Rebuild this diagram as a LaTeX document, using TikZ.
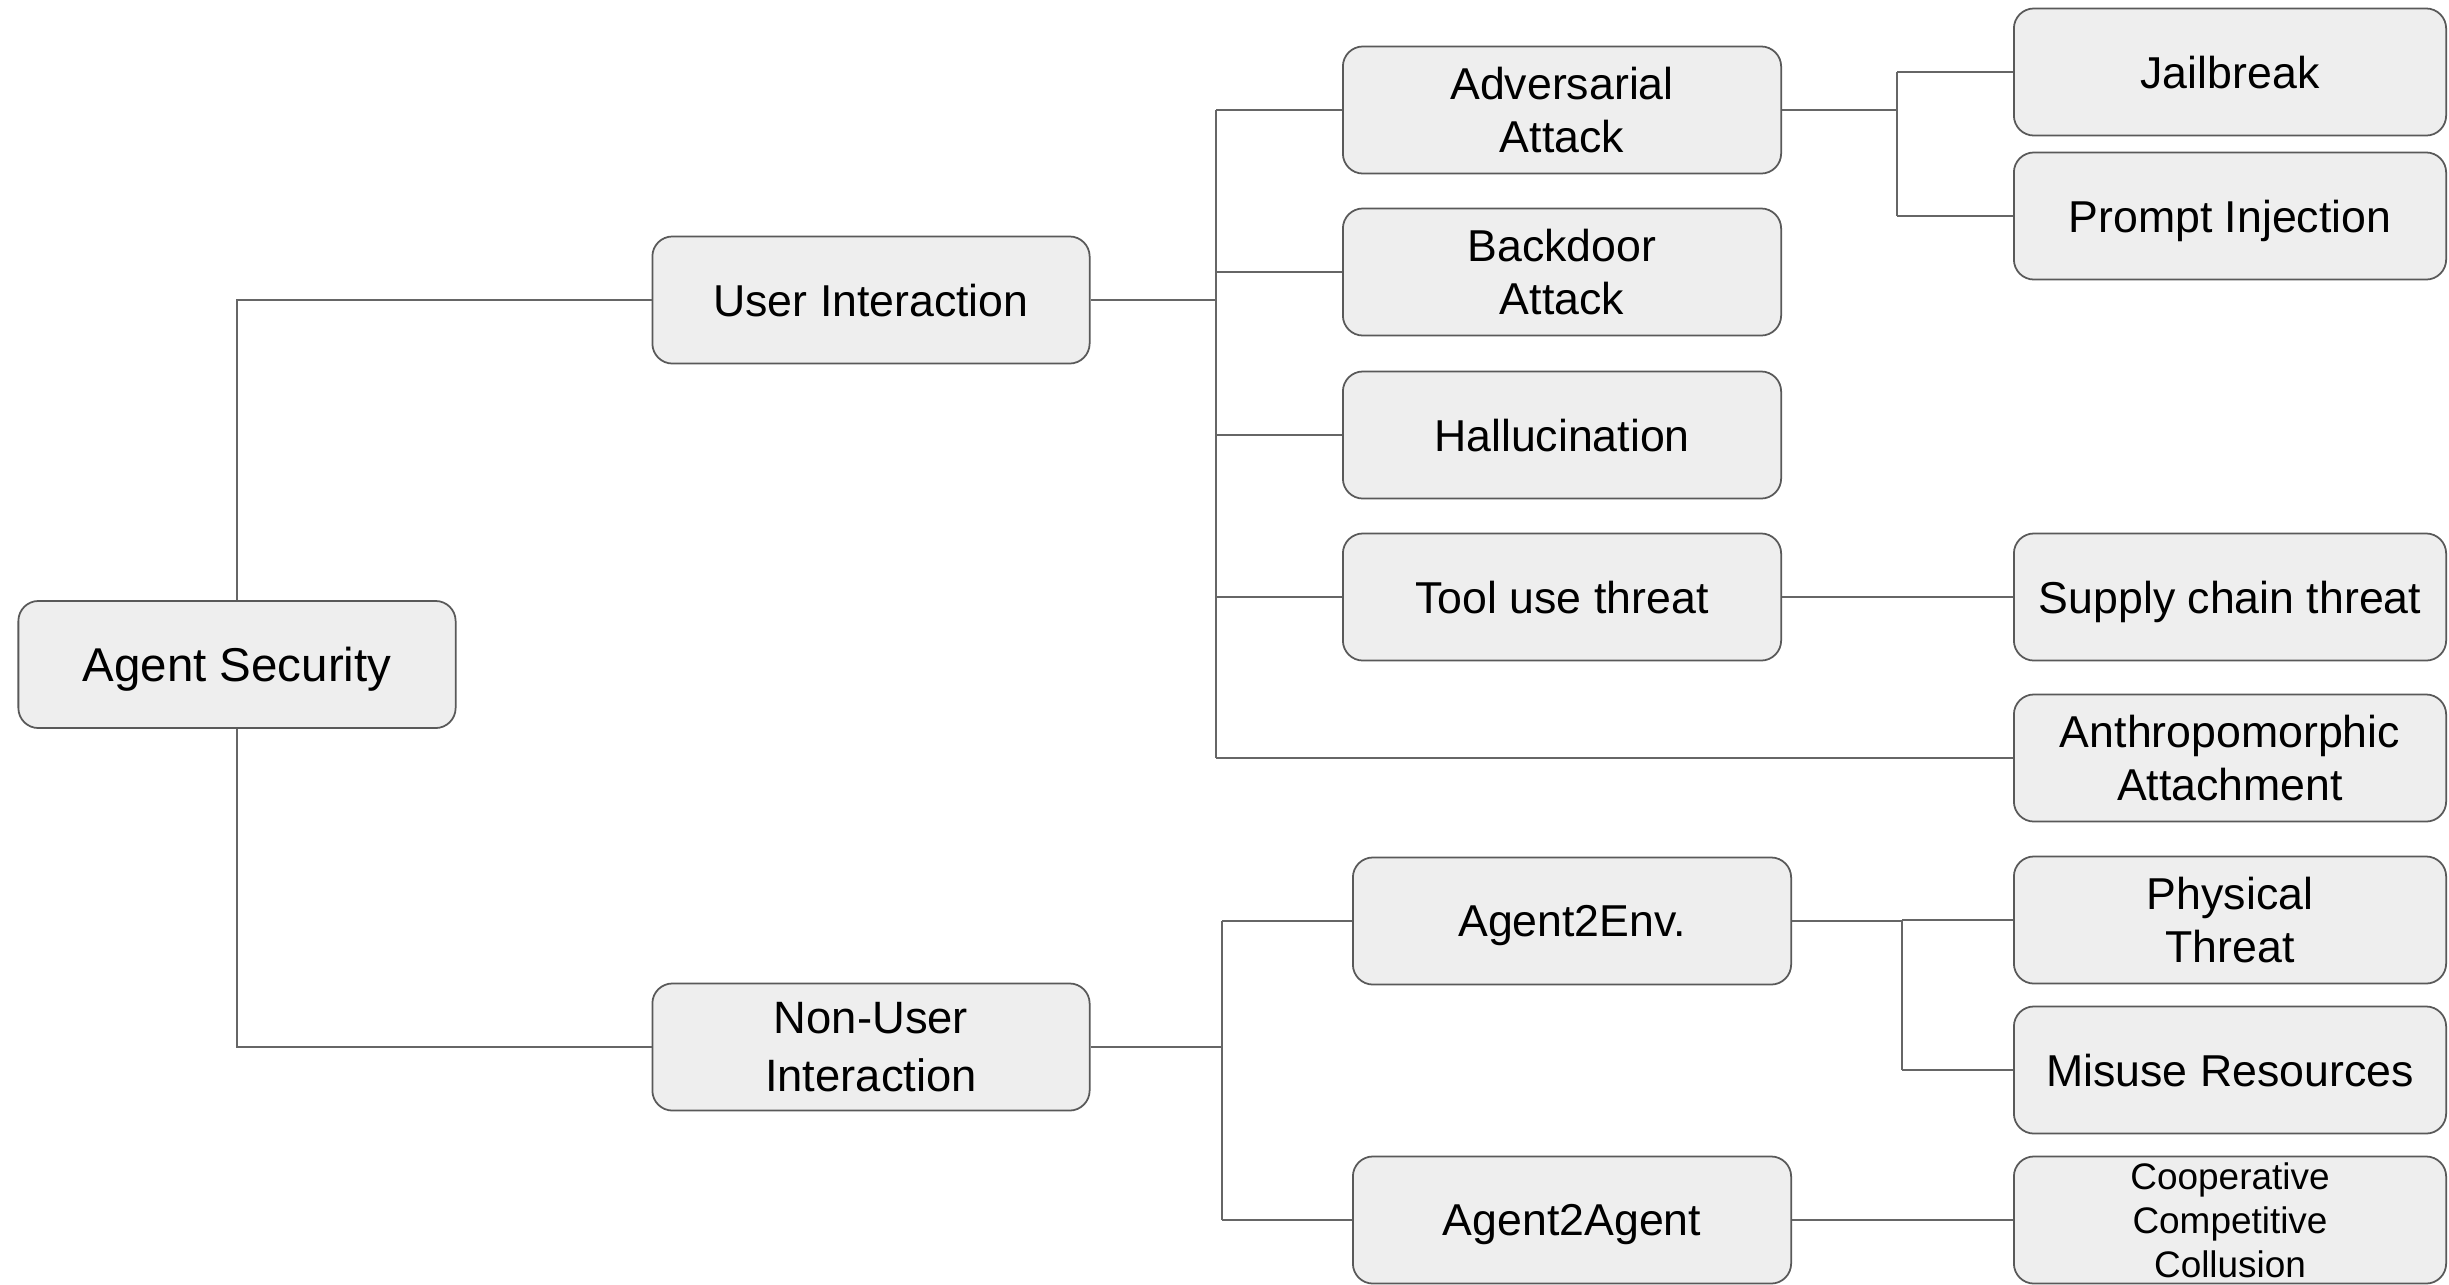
\documentclass[tikz,border=0pt]{standalone}
\usepackage{fontspec}
\setmainfont{Liberation Sans}
\begin{document}
\begin{tikzpicture}[x=0.01cm,y=-0.01cm,
  box/.style={draw=boxline,fill=boxfill,line width=0.5pt,rounded corners=0.2cm,
    minimum width=4.37cm,minimum height=1.27cm,inner sep=0pt,align=center,
    text depth=0pt,font=\fontsize{12.7}{15.2}\selectfont},
  leaf/.style={box,minimum width=4.32cm},
  link/.style={draw=linkcol,line width=0.5pt}]
\definecolor{boxfill}{HTML}{EEEEEE}
\definecolor{boxline}{HTML}{595959}
\definecolor{linkcol}{HTML}{666666}
\useasboundingbox (0,0) rectangle (2449,1284);

% root and first level
\node[box,font=\fontsize{13.5}{15.2}\selectfont] (sec) at (237,664.5) {Agent Security};
\node[box] (ui) at (871,300) {User Interaction};
\node[box,font=\fontsize{12.9}{16.4}\selectfont] (nui) at (871,1047) {Non-User\\Interaction};

% user interaction branch
\node[box,minimum width=4.38cm] (adv) at (1562,110) {Adversarial\\Attack};
\node[box,minimum width=4.38cm] (bd) at (1562,272) {Backdoor\\Attack};
\node[box,minimum width=4.38cm] (hal) at (1562,435) {Hallucination};
\node[box,minimum width=4.38cm] (tool) at (1562,597) {Tool use threat};

\node[leaf] (jb) at (2230,72) {Jailbreak};
\node[leaf] (pi) at (2230,216) {Prompt Injection};
\node[leaf] (sc) at (2230,597) {Supply chain threat};
\node[leaf] (anth) at (2230,758) {Anthropomorphic\\Attachment};

% non-user interaction branch
\node[box,minimum width=4.38cm] (a2e) at (1572,921) {Agent2Env.};
\node[box,minimum width=4.38cm] (a2a) at (1572,1220) {Agent2Agent};

\node[leaf] (phys) at (2230,920) {Physical\\Threat};
\node[leaf] (mis) at (2230,1070) {Misuse Resources};
\node[leaf,font=\fontsize{10.5}{12.4}\selectfont] (coop) at (2230,1220) {Cooperative\\Competitive\\Collusion};

% root connectors
\draw[link] (sec.north) |- (ui.west);
\draw[link] (sec.south) |- (nui.west);

% user interaction bus
\coordinate (busU) at (1216,300);
\draw[link] (ui.east) -- (busU);
\draw[link] (busU |- adv.west) -- (busU |- anth.west);
\draw[link] (busU |- adv.west) -- (adv.west);
\draw[link] (busU |- bd.west) -- (bd.west);
\draw[link] (busU |- hal.west) -- (hal.west);
\draw[link] (busU |- tool.west) -- (tool.west);
\draw[link] (busU |- anth.west) -- (anth.west);

% adversarial attack bus
\coordinate (busA) at (1897,110);
\draw[link] (adv.east) -- (busA);
\draw[link] (busA |- jb.west) -- (busA |- pi.west);
\draw[link] (busA |- jb.west) -- (jb.west);
\draw[link] (busA |- pi.west) -- (pi.west);

\draw[link] (tool.east) -- (sc.west);

% non-user interaction bus
\coordinate (busN) at (1222,1047);
\draw[link] (nui.east) -- (busN);
\draw[link] (busN |- a2e.west) -- (busN |- a2a.west);
\draw[link] (busN |- a2e.west) -- (a2e.west);
\draw[link] (busN |- a2a.west) -- (a2a.west);

% agent2env bus
\coordinate (busE) at (1902,921);
\draw[link] (a2e.east) -- (busE);
\draw[link] (busE |- phys.west) -- (busE |- mis.west);
\draw[link] (busE |- phys.west) -- (phys.west);
\draw[link] (busE |- mis.west) -- (mis.west);

\draw[link] (a2a.east) -- (coop.west);
\end{tikzpicture}
\end{document}
